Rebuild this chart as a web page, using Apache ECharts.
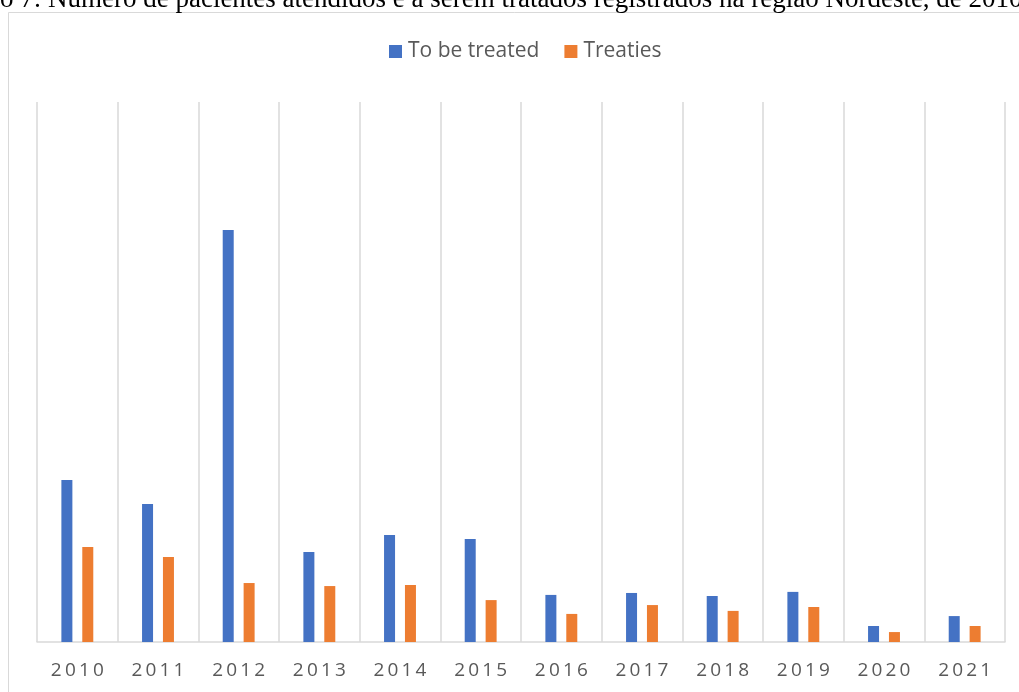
<!DOCTYPE html>
<html>
<head>
<meta charset="utf-8">
<script src="https://cdn.jsdelivr.net/npm/echarts@6/dist/echarts.min.js"></script>
<style>
  html, body { margin: 0; padding: 0; background: #fff; }
  #chart { width: 1019px; height: 692px; }
</style>
</head>
<body>
<div id="chart"></div>
<script>
// Patients registered in the Northeast region, 2010–2021
const years = ['2010', '2011', '2012', '2013', '2014', '2015', '2016', '2017', '2018', '2019', '2020', '2021'];
const toBeTreated = [750, 639, 1907, 417, 495, 477, 218, 227, 213, 232, 74, 120];
const treaties = [440, 394, 273, 259, 264, 194, 130, 171, 144, 162, 46, 74];
const seriesNames = ['To be treated', 'Treaties'];
const captionText = 'Gráfico 7: Número de pacientes atendidos e a serem tratados registrados na região Nordeste, de 2010 a 2021';

const chart = echarts.init(document.getElementById('chart'), null, { renderer: 'canvas' });

const spaced = s => s.split('').join('\u2009');

chart.setOption({
  backgroundColor: '#ffffff',
  animation: false,
  textStyle: { fontFamily: 'Open Sans' },
  graphic: [
    {
      type: 'rect',
      shape: { x: 8.5, y: 12.5, width: 1100, height: 800 },
      style: { fill: 'none', stroke: '#d9d9d9', lineWidth: 1 },
      silent: true
    },
    {
      type: 'text',
      x: -69,
      y: 13,
      style: {
        text: captionText,
        font: '27px "Liberation Serif"',
        fill: '#000000',
        textAlign: 'left',
        textVerticalAlign: 'bottom'
      },
      silent: true
    }
  ],
  legend: {
    top: 36,
    left: 384,
    itemWidth: 13,
    itemHeight: 13,
    itemGap: 25,
    icon: 'rect',
    textStyle: { fontSize: 21, color: '#595959', fontFamily: 'Open Sans', padding: [0, 0, 0, 1] },
    data: seriesNames
  },
  grid: { left: 37, right: 14, top: 102, bottom: 50, containLabel: false },
  xAxis: {
    type: 'category',
    data: years,
    boundaryGap: true,
    axisLine: { show: true, lineStyle: { color: '#d9d9d9', width: 1.5 } },
    axisTick: { show: false },
    splitLine: { show: true, interval: 0, lineStyle: { color: '#d9d9d9', width: 1.5 } },
    axisLabel: {
      interval: 0,
      margin: 19,
      fontSize: 19,
      color: '#595959',
      fontFamily: 'Open Sans',
      formatter: v => spaced(v)
    }
  },
  yAxis: {
    type: 'value',
    min: 0,
    max: 2500,
    interval: 500,
    show: false,
    splitLine: { show: false }
  },
  series: [
    {
      name: seriesNames[0],
      type: 'bar',
      data: toBeTreated,
      barWidth: 11,
      barGap: '90%',
      itemStyle: { color: '#4472C4' }
    },
    {
      name: seriesNames[1],
      type: 'bar',
      data: treaties,
      barWidth: 11,
      barGap: '90%',
      itemStyle: { color: '#ED7D31' }
    }
  ]
});
</script>
</body>
</html>
